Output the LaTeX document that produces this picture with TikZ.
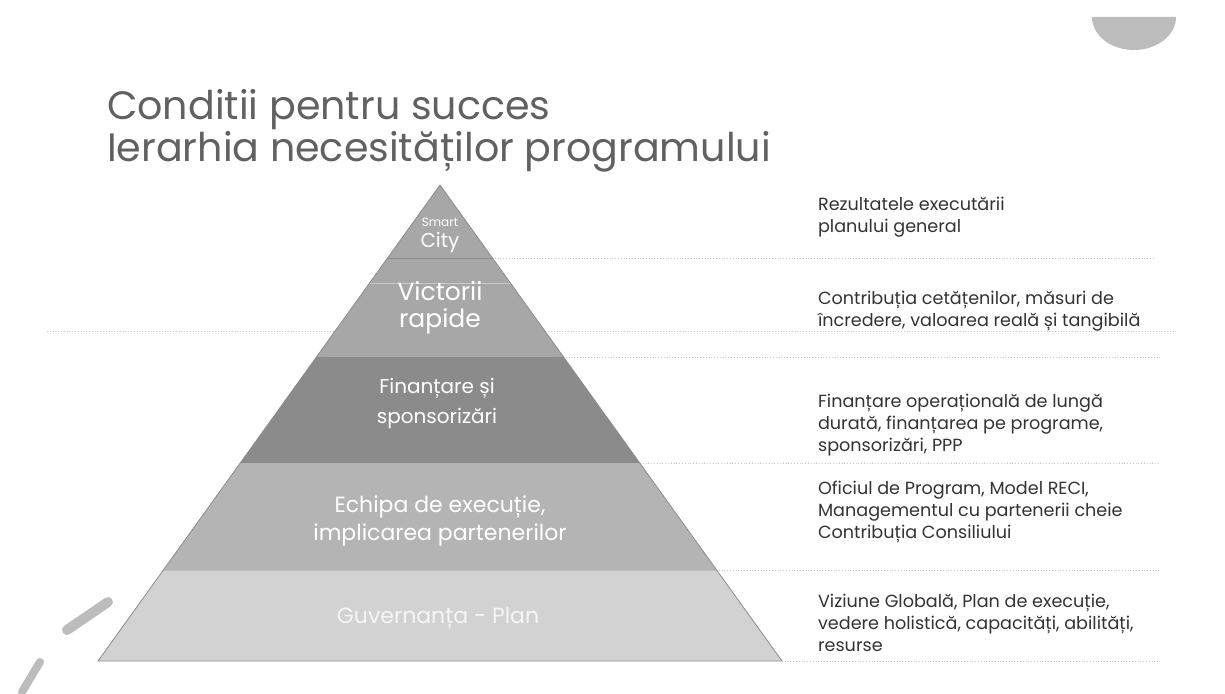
\documentclass[tikz,border=0pt]{standalone}
\usepackage{fontspec}
\setmainfont{Poppins}
\usetikzlibrary{positioning}
\definecolor{bandgray}{HTML}{A7A7A7}
\definecolor{banddark}{HTML}{8B8B8B}
\definecolor{bandmid}{HTML}{B4B4B4}
\definecolor{bandlight}{HTML}{D2D2D2}
\definecolor{decogray}{HTML}{BCBCBC}
\tikzset{
	every node/.style = {font=\fontsize{8.8}{11}\selectfont, text=black!80},
	level/.style = {align=center, text=white},
	note/.style = {anchor=west, align=left},
	sepline/.style = {densely dotted, black!22, line width=0.4pt},
	edge/.style = {black!45, line width=0.4pt}
}

\begin{document}
\begin{tikzpicture}[x=0.5pt, y=-0.5pt]
		\useasboundingbox (0,0) rectangle (1225,694);
		% title
		\node[anchor=west, align=left, text=black!62, font=\fontsize{19.8}{21}\selectfont] (title) at (100,131) {Conditii pentru succes\\Ierarhia necesităților programului};
		% dotted separators
		\draw[sepline] (492,258) -- (1155,258);
		\draw[sepline] (47,331) -- (1178,331);
		\draw[sepline] (563,357) -- (1160,357);
		\draw[sepline] (640,463) -- (1160,463);
		\draw[sepline] (716,570) -- (1160,570);
		\draw[sepline] (782,661) -- (1160,661);
		% pyramid
		\coordinate (apex) at (440,185);
		\coordinate (bl) at (98,661);
		\coordinate (br) at (782,661);
		\begin{scope}
			\clip (apex) -- (bl) -- (br) -- cycle;
			\fill[bandgray] (0,185) rectangle (1225,357);
			\fill[banddark] (0,357) rectangle (1225,463);
			\fill[bandmid] (0,463) rectangle (1225,570);
			\fill[bandlight] (0,570) rectangle (1225,661);
			\draw[edge] (0,258) -- (1225,258);
			\draw[white!40!bandgray, line width=0.3pt] (0,283) -- (1225,283);
			\draw[edge] (0,357) -- (1225,357);
			\draw[edge, black!30] (0,463) -- (1225,463);
			\draw[edge, black!25] (0,570) -- (1225,570);
		\end{scope}
		\draw[edge] (apex) -- (bl) -- (br) -- cycle;
		% pyramid labels
		\node[level, font=\fontsize{6}{7}\selectfont] (smart) at (440,222) {Smart};
		\node[level, font=\fontsize{10}{11}\selectfont] (city) at (440,242) {City};
		\node[level, font=\fontsize{12.5}{13.5}\selectfont] (victorii) at (440,308) {Victorii\\rapide};
		\node[level, font=\fontsize{10}{15}\selectfont] (finantare) at (437,403) {Finanțare și\\sponsorizări};
		\node[level, font=\fontsize{11}{14}\selectfont] (echipa) at (440,521) {Echipa de execuție,\\implicarea partenerilor};
		\node[level, text=white!92!gray, font=\fontsize{11}{14}\selectfont] (guvernanta) at (438,618) {Guvernanța - Plan};
		% notes
		\node[note] (rezultate) at (811,217) {Rezultatele executării\\planului general};
		\node[note] (contributia) at (811,311) {Contribuția cetățenilor, măsuri de\\încredere, valoarea reală și tangibilă};
		\node[note] (finantari) at (811,425) {Finanțare operațională de lungă\\durată, finanțarea pe programe,\\sponsorizări, PPP};
		\node[note] (oficiul) at (811,512) {Oficiul de Program, Model RECI,\\Managementul cu partenerii cheie\\Contribuția Consiliului};
		\node[note] (viziune) at (811,623) {Viziune Globală, Plan de execuție,\\vedere holistică, capacități, abilități,\\resurse};
		% marks
		\fill[decogray] (1092,17) arc[start angle=180, end angle=0, x radius=42, y radius=33] -- cycle;
		\draw[decogray, line width=5pt, line cap=round] (67,630) -- (108,602);
		\draw[decogray, line width=4pt, line cap=round] (22,692) -- (40,662);
	\end{tikzpicture}
\end{document}
